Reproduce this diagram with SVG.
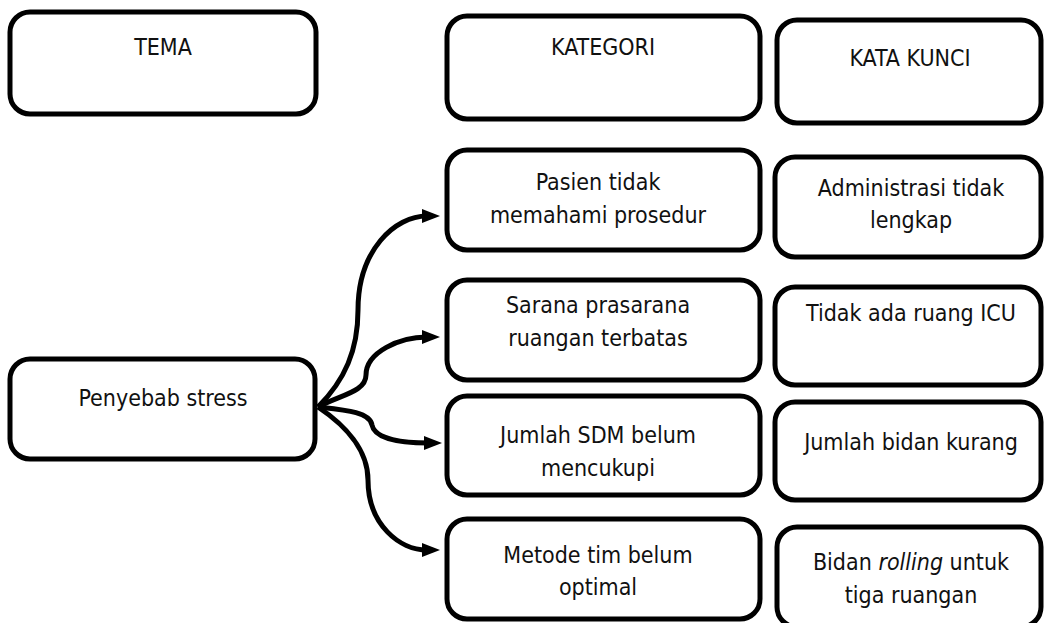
<svg xmlns="http://www.w3.org/2000/svg" width="1044" height="623" viewBox="0 0 1044 623">
<style>
.box{fill:#fff;stroke:#000;stroke-width:5}
.t{font-family:"DejaVu Sans Condensed","DejaVu Sans",sans-serif;font-size:23px;fill:#111;text-anchor:middle}
.c{fill:none;stroke:#000;stroke-width:5}
</style>
<defs>
<marker id="ah" viewBox="0 0 18 14" refX="5" refY="7" markerWidth="18" markerHeight="14" markerUnits="userSpaceOnUse" orient="auto">
<path d="M0,0 L18,7 L0,14 Z" fill="#000"/>
</marker>
</defs>
<g id="tema"><rect class="box" x="10" y="12" width="306" height="102" rx="20"/><text class="t" x="163" y="55">TEMA</text></g>
<g id="kategori"><rect class="box" x="447" y="16" width="313" height="103" rx="20"/><text class="t" x="603" y="55">KATEGORI</text></g>
<g id="katakunci"><rect class="box" x="777" y="20" width="264" height="103" rx="20"/><text class="t" x="910" y="66">KATA KUNCI</text></g>
<g id="penyebab"><rect class="box" x="10" y="359" width="305" height="100" rx="20"/><text class="t" x="163" y="406">Penyebab stress</text></g>
<g id="pasien"><rect class="box" x="447" y="150" width="313" height="100" rx="20"/><text class="t" x="598" y="190">Pasien tidak</text><text class="t" x="598" y="223">memahami prosedur</text></g>
<g id="administrasi"><rect class="box" x="775" y="157" width="266" height="100" rx="20"/><text class="t" x="911" y="196">Administrasi tidak</text><text class="t" x="911" y="228">lengkap</text></g>
<g id="sarana"><rect class="box" x="447" y="280" width="313" height="100" rx="20"/><text class="t" x="598" y="313">Sarana prasarana</text><text class="t" x="598" y="346">ruangan terbatas</text></g>
<g id="icu"><rect class="box" x="775" y="287" width="266" height="98" rx="20"/><text class="t" x="911" y="321">Tidak ada ruang ICU</text></g>
<g id="sdm"><rect class="box" x="447" y="396" width="313" height="99" rx="20"/><text class="t" x="598" y="443">Jumlah SDM belum</text><text class="t" x="598" y="476">mencukupi</text></g>
<g id="bidan"><rect class="box" x="775" y="402" width="266" height="98" rx="20"/><text class="t" x="911" y="450">Jumlah bidan kurang</text></g>
<g id="metode"><rect class="box" x="447" y="519" width="313" height="100" rx="20"/><text class="t" x="598" y="563">Metode tim belum</text><text class="t" x="598" y="595">optimal</text></g>
<g id="rolling"><rect class="box" x="777" y="527" width="264" height="100" rx="20"/><text class="t" x="911" y="570">Bidan <tspan font-style="italic">rolling</tspan> untuk</text><text class="t" x="911" y="603">tiga ruangan</text></g>
<g id="connectors">
<path class="c" d="M318,407 C345,380 358,350 358,310 C358,250 395,216 427,216" marker-end="url(#ah)"/>
<path class="c" d="M318,407 C340,395 366,392 366,375 C366,352 400,337 427,337" marker-end="url(#ah)"/>
<path class="c" d="M318,407 C345,410 370,412 372,425 C375,440 405,443 429,443" marker-end="url(#ah)"/>
<path class="c" d="M318,407 C345,425 368,450 368,480 C368,525 400,550 427,550" marker-end="url(#ah)"/>
</g>
</svg>
